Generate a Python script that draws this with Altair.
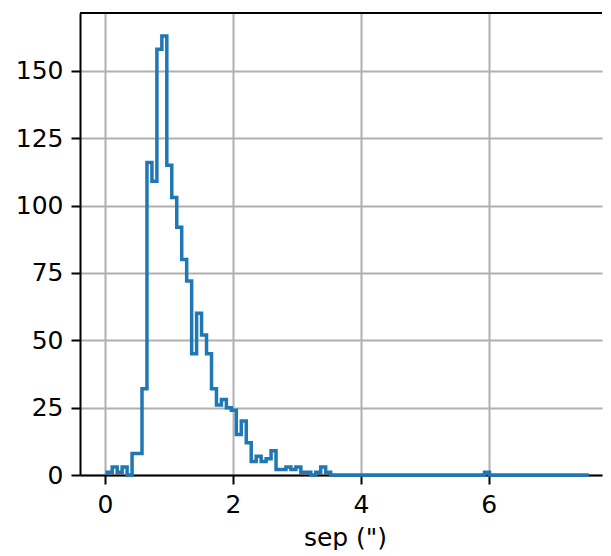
import altair as alt
import numpy as np
import pandas as pd

# Histogram of separations (step outline)
bin_start = 0.036
bin_width = 0.0776
counts = [
    1, 3, 1, 3, 0, 8, 8, 32, 116, 109,
    158, 163, 115, 103, 92, 80, 72, 45, 60, 52,
    45, 32, 26, 28, 25, 24, 15, 20, 12, 5,
    7, 5, 6, 9, 2, 2, 3, 2, 3, 1,
    1, 0, 1, 3, 1, 0, 0, 0, 0, 0,
    0, 0, 0, 0, 0, 0, 0, 0, 0, 0,
    0, 0, 0, 0, 0, 0, 0, 0, 0, 0,
    0, 0, 0, 0, 0, 0, 1, 0, 0, 0,
    0, 0, 0, 0, 0, 0, 0, 0, 0, 0,
    0, 0, 0, 0, 0, 0, 0,
]
x_ticks = [0, 2, 4, 6]
y_ticks = [0, 25, 50, 75, 100, 125, 150]
x_domain = [-0.39, 7.77]
y_domain = [0, 171.5]

edges = bin_start + bin_width * np.arange(len(counts) + 1)
xs, ys = [edges[0]], [0]
for k, c in enumerate(counts):
    xs += [edges[k], edges[k + 1]]
    ys += [c, c]
xs.append(edges[-1])
ys.append(0)
df = pd.DataFrame({"x": xs, "y": ys, "o": range(len(xs))})

FONT = "DejaVu Sans"
W, H = 522, 462

axis_common = dict(
    labelFont=FONT, labelFontSize=25, labelColor="black",
    titleFont=FONT, titleFontSize=25, titleFontWeight="normal", titleColor="black",
    tickSize=9, tickWidth=2, tickColor="black",
    domainColor="black", domainWidth=2,
    grid=True, gridColor="#b0b0b0", gridWidth=2,
    labelPadding=8,
)

line = alt.Chart(df).mark_line(color="#1f77b4", strokeWidth=3.5, strokeJoin="miter").encode(
    x=alt.X("x:Q", scale=alt.Scale(domain=x_domain, nice=False, zero=False),
            axis=alt.Axis(values=x_ticks, title='sep (")', titlePadding=8,
                          titleX=265, titleAlign="center", **axis_common)),
    y=alt.Y("y:Q", scale=alt.Scale(domain=y_domain, nice=False, zero=False),
            axis=alt.Axis(values=y_ticks, title=None, **axis_common)),
    order="o:Q",
)

top_spine = alt.Chart(df).mark_rule(color="black", strokeWidth=2).encode(
    x=alt.value(0), x2=alt.value(W), y=alt.value(0)
)

chart = alt.layer(line, top_spine).properties(
    width=W, height=H,
    padding={"left": 7, "top": 4, "right": 0, "bottom": 0},
).configure_view(stroke=None)

chart.save("out.html", embed_options={"renderer": "svg", "actions": False})
